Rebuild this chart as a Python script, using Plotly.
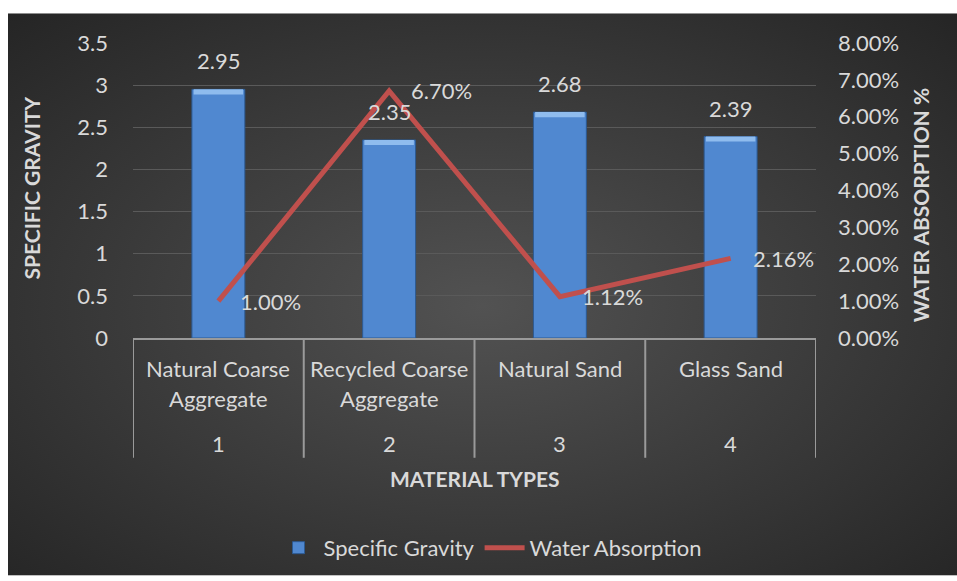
import urllib.parse
import plotly.graph_objects as go

# ---- data ----
material_names = ["Natural Coarse\nAggregate", "Recycled Coarse\nAggregate", "Natural Sand", "Glass Sand"]
material_ids = ["1", "2", "3", "4"]
specific_gravity = [2.95, 2.35, 2.68, 2.39]
water_absorption = [0.0100, 0.0670, 0.0112, 0.0216]
wa_labels = ["1.00%", "6.70%", "1.12%", "2.16%"]

# ---- figure geometry ----
W, H = 957, 581
L, R, T, B = 133, 141, 43, 240
PW, PH = W - L - R, H - T - B

FONT = "Lato"
FS = 22
TXT = "#d9d9d9"
GRID = "#5a5a5a"
AXLINE = "#9a9a9a"
BAR = "#5088d0"
BAR_EDGE = "#2c5a92"
CAP = "#8fbcee"
LINE = "#c0504d"


def py(px):
    """pixel row -> paper y"""
    return (H - B - px) / PH


def pxx(px):
    """pixel column -> paper x"""
    return (px - L) / PW


x = list(range(len(material_ids)))

fig = go.Figure()

# bars
fig.add_trace(go.Bar(
    x=x, y=specific_gravity, name="Specific Gravity",
    marker=dict(color=BAR, line=dict(color=BAR_EDGE, width=1)),
    width=0.31, yaxis="y",
))
# light bevel on the bar tops
cap_h = 0.06
fig.add_trace(go.Bar(
    x=x, y=[cap_h] * len(x), base=[v - cap_h for v in specific_gravity],
    marker=dict(color=CAP, line=dict(color=BAR_EDGE, width=0)),
    width=0.29, showlegend=False, hoverinfo="skip", yaxis="y",
))

# line on secondary axis
fig.add_trace(go.Scatter(
    x=x, y=water_absorption, name="Water Absorption", mode="lines",
    line=dict(color=LINE, width=5), yaxis="y2",
))

annotations = []
# bar value labels
for xi, v in zip(x, specific_gravity):
    annotations.append(dict(x=xi, y=v, xref="x", yref="y", text=f"{v:.2f}",
                            showarrow=False, yanchor="bottom", yshift=13,
                            font=dict(family=FONT, size=FS, color=TXT)))
# line value labels
for xi, v, t in zip(x, water_absorption, wa_labels):
    annotations.append(dict(x=xi, y=v, xref="x", yref="y2", text=t,
                            showarrow=False, xanchor="left", xshift=20,
                            font=dict(family=FONT, size=FS, color=TXT)))
# category labels (two levels)
for xi, name, mid in zip(x, material_names, material_ids):
    for k, line in enumerate(name.split("\n")):
        annotations.append(dict(x=xi, y=py(372 + 30 * k), xref="x", yref="paper",
                                text=line, showarrow=False, yanchor="middle",
                                font=dict(family=FONT, size=FS, color=TXT)))
    annotations.append(dict(x=xi, y=py(448), xref="x", yref="paper", text=mid,
                            showarrow=False, yanchor="middle",
                            font=dict(family=FONT, size=FS, color=TXT)))
# axis titles
TFS = 21
annotations.append(dict(x=pxx(474), y=py(483), xref="paper", yref="paper",
                        text="<b>MATERIAL TYPES</b>", showarrow=False, yanchor="middle",
                        font=dict(family=FONT, size=TFS, color=TXT)))
annotations.append(dict(x=pxx(32), y=py(190), xref="paper", yref="paper",
                        text="<b>SPECIFIC GRAVITY</b>", showarrow=False, textangle=-90,
                        xanchor="center", yanchor="middle",
                        font=dict(family=FONT, size=TFS, color=TXT)))
annotations.append(dict(x=pxx(920), y=py(207), xref="paper", yref="paper",
                        text="<b>WATER ABSORPTION %</b>", showarrow=False, textangle=-90,
                        xanchor="center", yanchor="middle",
                        font=dict(family=FONT, size=TFS, color=TXT)))

# dividers of the category axis
shapes = []
for b in [-0.5, 0.5, 1.5, 2.5, 3.5]:
    shapes.append(dict(type="line", xref="x", yref="paper", x0=b, x1=b,
                       y0=0, y1=py(462), line=dict(color=AXLINE, width=2)))

# radial dark background
svg = (
    "<svg xmlns='http://www.w3.org/2000/svg' width='949' height='568' preserveAspectRatio='none'>"
    "<defs><radialGradient id='g' cx='50%' cy='52%' r='72%'>"
    "<stop offset='0%' stop-color='#525252'/>"
    "<stop offset='100%' stop-color='#252525'/>"
    "</radialGradient></defs>"
    "<rect width='949' height='568' fill='url(#g)'/></svg>"
)
bg_src = "data:image/svg+xml;charset=utf-8," + urllib.parse.quote(svg)

fig.update_layout(
    width=W, height=H,
    margin=dict(l=L, r=R, t=T, b=B, pad=0),
    paper_bgcolor="white", plot_bgcolor="rgba(0,0,0,0)",
    barmode="overlay",
    font=dict(family=FONT, size=FS, color=TXT),
    images=[dict(source=bg_src, xref="paper", yref="paper",
                 x=pxx(8), y=py(13), sizex=pxx(W) - pxx(8), sizey=py(13) - py(H),
                 xanchor="left", yanchor="top", sizing="stretch", layer="below")],
    xaxis=dict(range=[-0.5, 3.5], showticklabels=False, showgrid=False,
               zeroline=False, showline=True, linecolor=AXLINE, linewidth=2,
               fixedrange=True),
    yaxis=dict(range=[0, 3.5], dtick=0.5, showgrid=True,
               gridcolor=GRID, gridwidth=1, zeroline=False, showline=False,
               ticks="", ticklabelstandoff=24,
               tickfont=dict(family=FONT, size=FS, color=TXT)),
    yaxis2=dict(range=[0, 0.08], dtick=0.01, tickformat=".2%", overlaying="y",
                side="right", showgrid=False, zeroline=False, showline=False,
                ticks="", ticklabelstandoff=21,
                tickfont=dict(family=FONT, size=FS, color=TXT)),
    legend=dict(orientation="h", x=pxx(490), xanchor="center", y=py(553),
                yanchor="middle", font=dict(family=FONT, size=FS, color=TXT),
                bgcolor="rgba(0,0,0,0)", itemwidth=40, traceorder="normal"),
    annotations=annotations, shapes=shapes,
    showlegend=True,
)

fig.write_html("out.html")
